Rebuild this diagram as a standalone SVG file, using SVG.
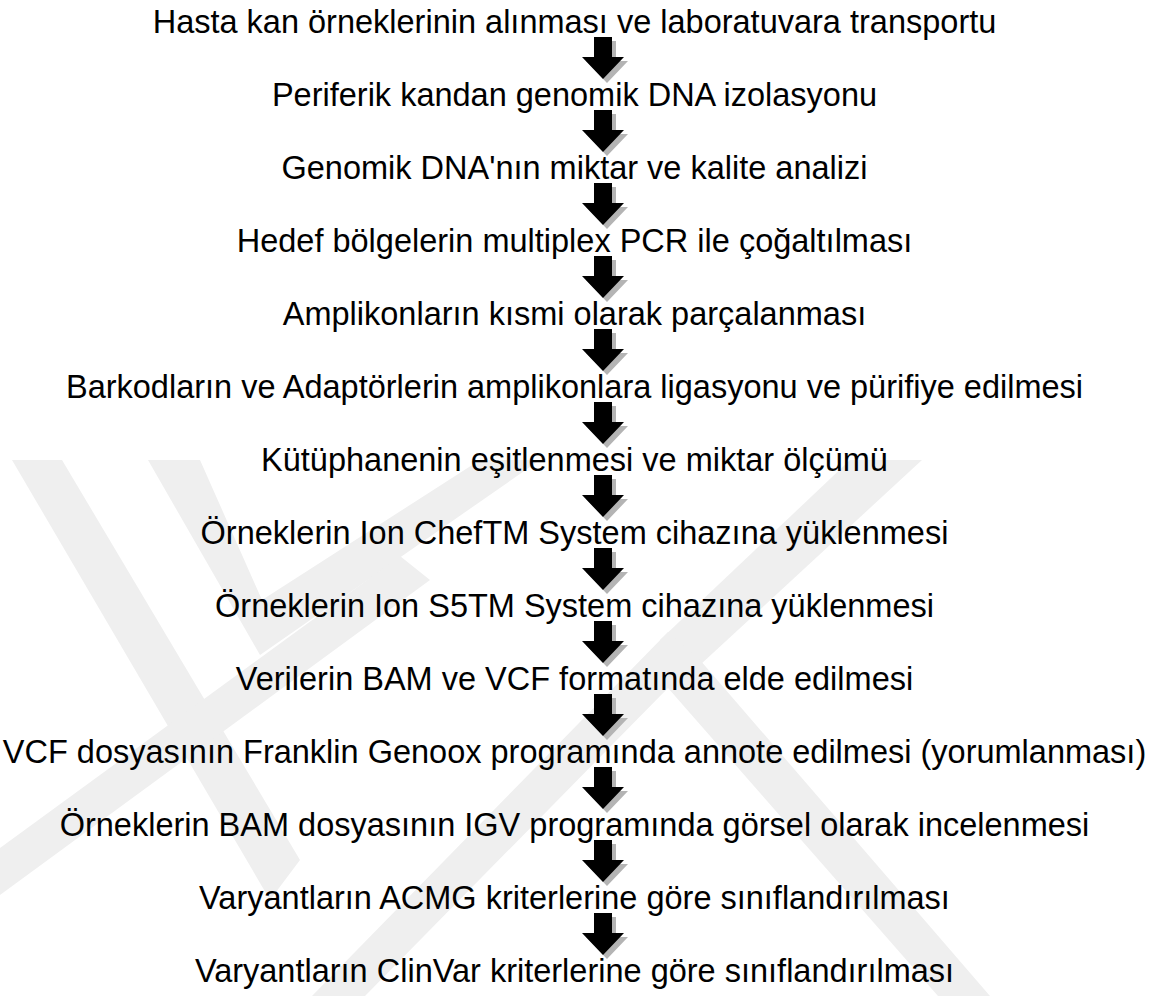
<svg xmlns="http://www.w3.org/2000/svg" width="1149" height="996" viewBox="0 0 1149 996">
<defs>
<style>
.t{font-family:"Liberation Sans",Arial,sans-serif;font-size:32.5px;fill:#000;text-anchor:middle}
.wm{fill:#efefef}
</style>
<path id="arr" d="M594,0 H612 V20 H624 L603,42 L582,20 H594 Z"/>
</defs>
<rect width="1149" height="996" fill="#fff"/>
<g id="watermark">
<polygon class="wm" points="12,460 62,460 300,860 270,900"/>
<polygon class="wm" points="148,460 200,460 262,600 480,460 540,460 260,655"/>
<polygon class="wm" points="0,848 0,895 430,580 400,556"/>
<polygon class="wm" points="850,460 922,460 700,665 660,640"/>
<polygon class="wm" points="668,632 700,660 990,996 938,996 668,688 365,996 312,996"/>
</g>
<g id="connectors">
<g fill="#b4b4b4">
<use href="#arr" x="4" y="41"/><use href="#arr" x="4" y="114"/><use href="#arr" x="4" y="187"/><use href="#arr" x="4" y="260"/><use href="#arr" x="4" y="333"/><use href="#arr" x="4" y="406"/><use href="#arr" x="4" y="479"/><use href="#arr" x="4" y="552"/><use href="#arr" x="4" y="625"/><use href="#arr" x="4" y="698"/><use href="#arr" x="4" y="771"/><use href="#arr" x="4" y="844"/><use href="#arr" x="4" y="917"/>
</g>
<g fill="#000">
<use href="#arr" y="37"/><use href="#arr" y="110"/><use href="#arr" y="183"/><use href="#arr" y="256"/><use href="#arr" y="329"/><use href="#arr" y="402"/><use href="#arr" y="475"/><use href="#arr" y="548"/><use href="#arr" y="621"/><use href="#arr" y="694"/><use href="#arr" y="767"/><use href="#arr" y="840"/><use href="#arr" y="913"/>
</g>
</g>
<g id="n1"><text class="t" x="574.5" y="33">Hasta kan örneklerinin alınması ve laboratuvara transportu</text></g>
<g id="n2"><text class="t" x="574.5" y="106">Periferik kandan genomik DNA izolasyonu</text></g>
<g id="n3"><text class="t" x="574.5" y="179">Genomik DNA'nın miktar ve kalite analizi</text></g>
<g id="n4"><text class="t" x="574.5" y="252">Hedef bölgelerin multiplex PCR ile çoğaltılması</text></g>
<g id="n5"><text class="t" x="574.5" y="325">Amplikonların kısmi olarak parçalanması</text></g>
<g id="n6"><text class="t" x="574.5" y="398">Barkodların ve Adaptörlerin amplikonlara ligasyonu ve pürifiye edilmesi</text></g>
<g id="n7"><text class="t" x="574.5" y="471">Kütüphanenin eşitlenmesi ve miktar ölçümü</text></g>
<g id="n8"><text class="t" x="574.5" y="544">Örneklerin Ion ChefTM System cihazına yüklenmesi</text></g>
<g id="n9"><text class="t" x="574.5" y="617">Örneklerin Ion S5TM System cihazına yüklenmesi</text></g>
<g id="n10"><text class="t" x="574.5" y="690">Verilerin BAM ve VCF formatında elde edilmesi</text></g>
<g id="n11"><text class="t" x="574.5" y="763">VCF dosyasının Franklin Genoox programında annote edilmesi (yorumlanması)</text></g>
<g id="n12"><text class="t" x="574.5" y="836">Örneklerin BAM dosyasının IGV programında görsel olarak incelenmesi</text></g>
<g id="n13"><text class="t" x="574.5" y="909">Varyantların ACMG kriterlerine göre sınıflandırılması</text></g>
<g id="n14"><text class="t" x="574.5" y="982">Varyantların ClinVar kriterlerine göre sınıflandırılması</text></g>
</svg>
